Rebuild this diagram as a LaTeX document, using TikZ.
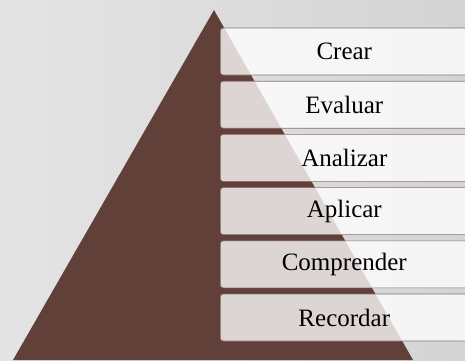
\documentclass[tikz,border=0pt]{standalone}
\usepackage{fontspec}
\setmainfont{Liberation Serif}
\usepackage{tikz}
\definecolor{pyrbrown}{RGB}{96,64,56}
\definecolor{boxline}{RGB}{140,112,104}

\begin{document}
\begin{tikzpicture}[x=1pt, y=-1pt,
  level/.style={rectangle, rounded corners=3pt, anchor=west, minimum width=248pt, minimum height=47pt,
    fill=white, fill opacity=0.78, text opacity=1, draw=boxline, line width=0.6pt,
    font=\fontsize{25}{30}\selectfont}]
  \useasboundingbox (0,0) rectangle (465,360);
  \clip (0,0) rectangle (465,360);
  \shade[left color={rgb,255:red,228;green,228;blue,228}, right color={rgb,255:red,212;green,212;blue,212}] (0,0) rectangle (465,360);

  % pyramid
  \coordinate (apex) at (214,10);
  \coordinate (baseL) at (13,360);
  \coordinate (baseR) at (413,360);
  \fill[pyrbrown] (apex) -- (baseR) -- (baseL) -- cycle;

  % levels, top to bottom
  \node[level] (crear) at (220,51.5) {Crear};
  \node[level] (evaluar) at (220,104.7) {Evaluar};
  \node[level] (analizar) at (220,157.9) {Analizar};
  \node[level] (aplicar) at (220,211.1) {Aplicar};
  \node[level] (comprender) at (220,264.3) {Comprender};
  \node[level] (recordar) at (220,317.5) {Recordar};

\end{tikzpicture}
\end{document}
